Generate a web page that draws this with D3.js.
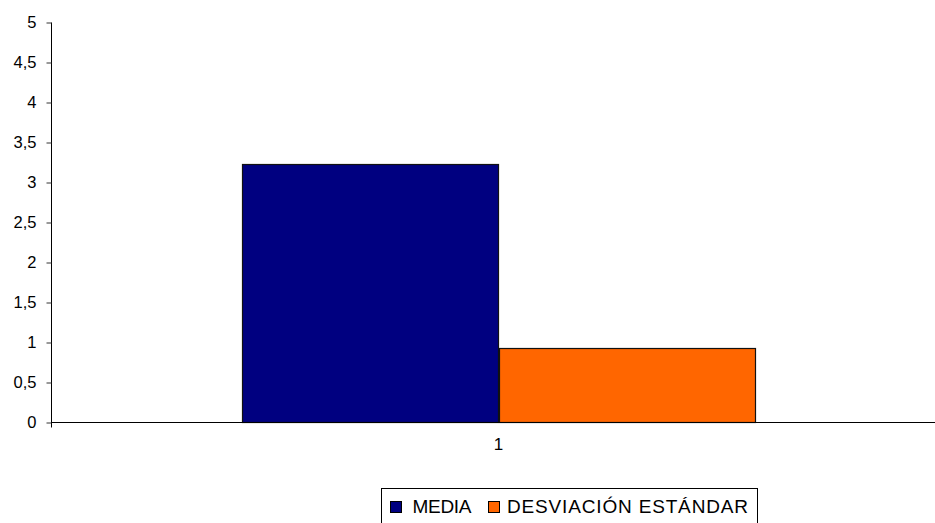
<!DOCTYPE html>
<html>
<head>
<meta charset="utf-8">
<script src="https://cdn.jsdelivr.net/npm/d3@7/dist/d3.min.js"></script>
<style>
  html, body { margin: 0; padding: 0; background: #fff; }
  svg { display: block; font-family: "Liberation Sans", Arial, sans-serif; }
</style>
</head>
<body>
<svg id="chart" width="935" height="523"></svg>
<script>
// Data
const categories = ["1"];
const seriesNames = ["MEDIA", "DESVIACIÓN ESTÁNDAR"];
const seriesColors = ["#000080", "#FF6600"];
const mediaValues = [3.23];
const desviacionValues = [0.93];
const yTicks = [0, 0.5, 1, 1.5, 2, 2.5, 3, 3.5, 4, 4.5, 5];

const svg = d3.select("#chart");
const plot = { left: 51, right: 946, top: 22, bottom: 422 };

const x = d3.scaleBand().domain(categories).range([plot.left, plot.right]);
const x1 = d3.scaleBand().domain(seriesNames).range([0, x.bandwidth()]).paddingOuter(0.745);
const y = d3.scaleLinear().domain([0, 5]).range([plot.bottom, plot.top]);

const fmt = v => String(v).replace(".", ",");

// Bars
const rows = categories.map((c, i) => ({
  cat: c,
  vals: [mediaValues[i], desviacionValues[i]]
}));
const g = svg.append("g");
rows.forEach(r => {
  r.vals.forEach((v, k) => {
    g.append("rect")
      .attr("x", Math.round(x(r.cat) + x1(seriesNames[k])) + 0.5)
      .attr("y", Math.round(y(v)) + 0.5)
      .attr("width", Math.round(x1.bandwidth()))
      .attr("height", Math.round(y(0) - y(v)))
      .attr("fill", seriesColors[k])
      .attr("stroke", "#111")
      .attr("stroke-width", 1.2);
  });
});

// Y axis
const yAxis = d3.axisLeft(y).tickValues(yTicks).tickSize(5).tickPadding(10).tickFormat(fmt);
const ya = svg.append("g").attr("transform", `translate(${plot.left + 0.5},0.5)`).call(yAxis);
ya.select(".domain").attr("d", `M0,${plot.top}V${plot.bottom + 5}`).attr("stroke", "#000");
ya.selectAll(".tick line").attr("stroke", "#333");
ya.selectAll(".tick text").attr("font-size", 16.5).attr("fill", "#000")
  .attr("font-family", "'Liberation Sans', Arial, sans-serif");

// X axis
const xAxis = d3.axisBottom(x).tickSize(0).tickPadding(15);
const xa = svg.append("g").attr("transform", `translate(0,${plot.bottom + 0.5})`).call(xAxis);
xa.select(".domain").attr("d", `M${plot.left},0H${plot.right}`).attr("stroke", "#000");
xa.selectAll(".tick text").attr("font-size", 17).attr("fill", "#000")
  .attr("font-family", "'Liberation Sans', Arial, sans-serif");

// Legend
const legend = svg.append("g");
legend.append("rect")
  .attr("x", 381.5).attr("y", 488.5).attr("width", 376).attr("height", 50)
  .attr("fill", "#fff").attr("stroke", "#000").attr("stroke-width", 1);
const legendItems = [
  { name: seriesNames[0], color: seriesColors[0], sx: 390, tx: 412.5, len: 59 },
  { name: seriesNames[1], color: seriesColors[1], sx: 488, tx: 507, len: 241 }
];
legendItems.forEach(d => {
  legend.append("rect")
    .attr("x", d.sx + 0.5).attr("y", 501.5).attr("width", 11).attr("height", 11)
    .attr("fill", d.color).attr("stroke", "#000").attr("stroke-width", 1);
  legend.append("text")
    .attr("x", d.tx).attr("y", 513)
    .attr("font-size", 19)
    .attr("textLength", d.len)
    .attr("lengthAdjust", "spacing")
    .attr("fill", "#000")
    .text(d.name);
});
</script>
</body>
</html>
